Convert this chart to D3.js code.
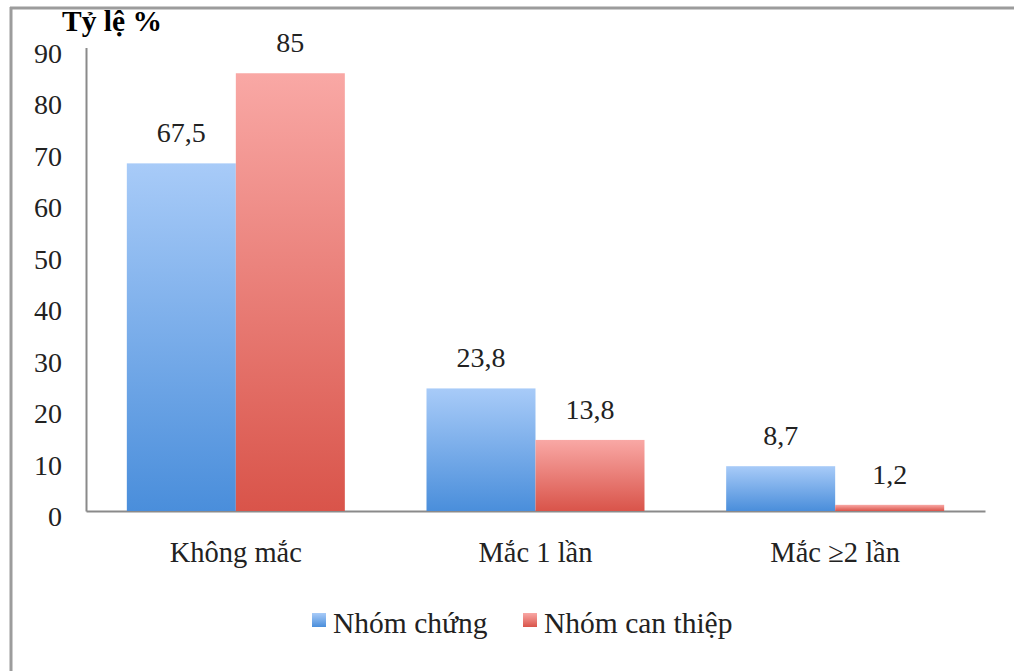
<!DOCTYPE html>
<html>
<head>
<meta charset="utf-8">
<script src="https://cdn.jsdelivr.net/npm/d3@7"></script>
<style>
  html, body { margin: 0; padding: 0; background: #fff; }
  svg { display: block; }
</style>
</head>
<body>
<svg id="chart" width="1014" height="671"></svg>
<script>
// Tỷ lệ mắc bệnh theo nhóm
const categories = ["Không mắc", "Mắc 1 lần", "Mắc ≥2 lần"];
const seriesNames = ["Nhóm chứng", "Nhóm can thiệp"];
const controlValues = [67.5, 23.8, 8.7];
const interventionValues = [85, 13.8, 1.2];
const yTicks = [0, 10, 20, 30, 40, 50, 60, 70, 80, 90];
const yTitle = "Tỷ lệ %";

const series = [
  { name: seriesNames[0], values: controlValues, key: "blue" },
  { name: seriesNames[1], values: interventionValues, key: "red" }
];

const svg = d3.select("#chart");
const font = "'Liberation Serif', 'Times New Roman', serif";

const margin = { left: 86, right: 29, top: 47.5, bottom: 160 };
const W = 1014, H = 671;
const plotBottom = 511;

// Gradients for the bars (lighter at the top, deeper at the base)
const defs = svg.append("defs");
const grads = {
  blue: ["#a8cbf8", "#4a8edb"],
  red: ["#f9a8a5", "#d9544a"]
};
Object.entries(grads).forEach(([k, c]) => {
  const g = defs.append("linearGradient")
    .attr("id", "grad-" + k)
    .attr("x1", 0).attr("y1", 0).attr("x2", 0).attr("y2", 1);
  g.append("stop").attr("offset", "0%").attr("stop-color", c[0]);
  g.append("stop").attr("offset", "100%").attr("stop-color", c[1]);
});

// Outer frame (left and top edges)
svg.append("line").attr("x1", 11).attr("x2", 11).attr("y1", 7).attr("y2", H)
  .attr("stroke", "#9c9c9c").attr("stroke-width", 3);
svg.append("line").attr("x1", 10).attr("x2", W).attr("y1", 8).attr("y2", 8)
  .attr("stroke", "#9c9c9c").attr("stroke-width", 3);

const x0 = d3.scaleBand()
  .domain(categories)
  .range([margin.left, W - margin.right])
  .paddingInner(0)
  .paddingOuter(0);

const groupInner = 218;
const x1 = d3.scaleBand()
  .domain(seriesNames)
  .range([0, groupInner]);

const y = d3.scaleLinear()
  .domain([0, 90])
  .range([plotBottom, margin.top]);

// Y axis: line and labels only
const yAxis = d3.axisLeft(y).tickValues(yTicks).tickSize(0).tickPadding(24)
  .tickFormat(d3.format("d"));
const gy = svg.append("g").attr("transform", `translate(${margin.left},0)`).call(yAxis);
gy.select(".domain").attr("stroke", "#8a8a8a").attr("stroke-width", 2);
gy.selectAll("text")
  .attr("font-family", font).attr("font-size", 28).attr("fill", "#222")
  .attr("dy", "0.52em");

// X axis baseline
const xAxis = d3.axisBottom(x0).tickSize(0).tickPadding(0);
const gx = svg.append("g").attr("transform", `translate(0,${plotBottom})`).call(xAxis);
gx.select(".domain").attr("stroke", "#8a8a8a").attr("stroke-width", 2);
gx.selectAll("text")
  .attr("font-family", font).attr("font-size", 28.5).attr("fill", "#222")
  .attr("dy", 0).attr("y", 51);

// Bars
const groups = svg.append("g").selectAll("g")
  .data(categories)
  .join("g")
  .attr("transform", d => `translate(${x0(d) + (x0.bandwidth() - groupInner) / 2},0)`);

groups.selectAll("rect")
  .data((c, i) => series.map(s => ({ s, v: s.values[i] })))
  .join("rect")
  .attr("x", d => x1(d.s.name))
  .attr("width", x1.bandwidth())
  .attr("y", d => y(d.v))
  .attr("height", d => plotBottom - y(d.v))
  .attr("fill", d => `url(#grad-${d.s.key})`);

groups.selectAll("text.val")
  .data((c, i) => series.map(s => ({ s, v: s.values[i] })))
  .join("text")
  .attr("class", "val")
  .attr("x", d => x1(d.s.name) + x1.bandwidth() / 2)
  .attr("y", d => y(d.v) - 21)
  .attr("text-anchor", "middle")
  .attr("font-family", font).attr("font-size", 28).attr("fill", "#222")
  .text(d => String(d.v).replace(".", ","));

// Title of the y axis
svg.append("text")
  .attr("x", 62).attr("y", 31)
  .attr("font-family", font).attr("font-size", 29.5).attr("font-weight", "bold")
  .attr("fill", "#000")
  .text(yTitle);

// Legend
const legendPos = [312, 523];
const legend = svg.append("g").selectAll("g")
  .data(series)
  .join("g")
  .attr("transform", (d, i) => `translate(${legendPos[i]},0)`);
legend.append("rect")
  .attr("x", 0).attr("y", 613).attr("width", 14).attr("height", 14)
  .attr("fill", d => `url(#grad-${d.key})`);
legend.append("text")
  .attr("x", 21).attr("y", 633)
  .attr("font-family", font).attr("font-size", 29.5).attr("fill", "#222")
  .text(d => d.name);
</script>
</body>
</html>
